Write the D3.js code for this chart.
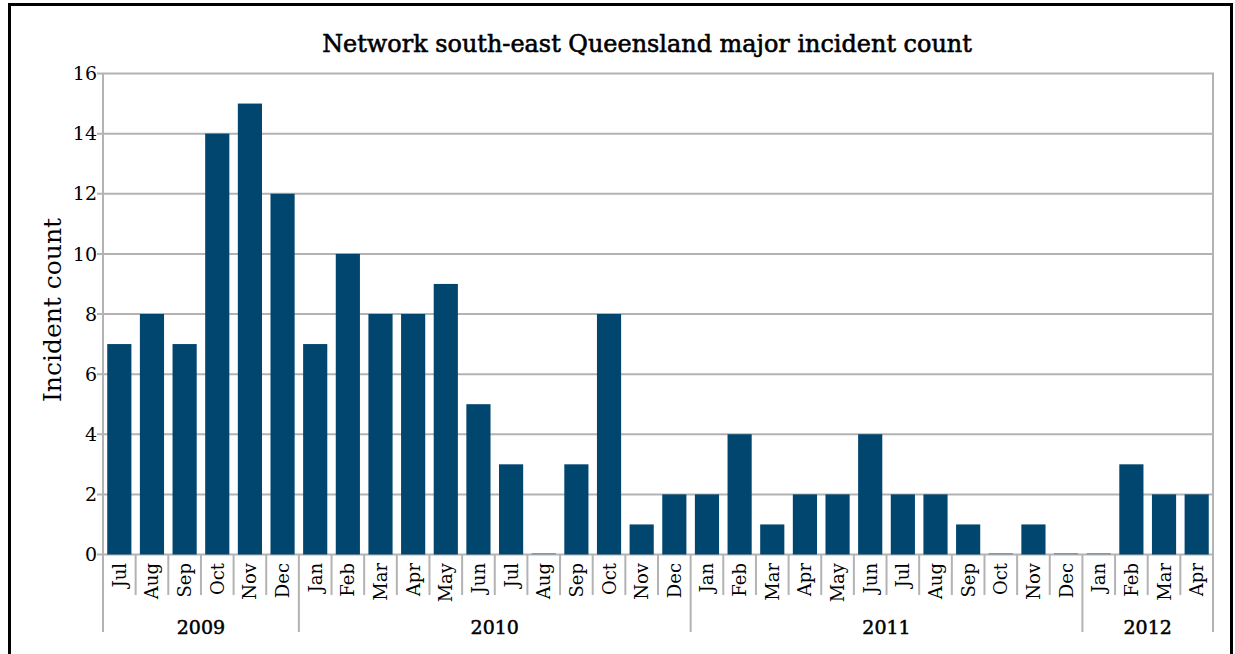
<!DOCTYPE html>
<html><head><meta charset="utf-8">
<script src="https://cdn.jsdelivr.net/npm/d3@7"></script>
<style>html,body{margin:0;padding:0;background:#fff;}svg{display:block;}</style>
</head><body>
<svg id="c" width="1235" height="654"></svg>
<script>
const months = ["Jul","Aug","Sep","Oct","Nov","Dec",
  "Jan","Feb","Mar","Apr","May","Jun","Jul","Aug","Sep","Oct","Nov","Dec",
  "Jan","Feb","Mar","Apr","May","Jun","Jul","Aug","Sep","Oct","Nov","Dec",
  "Jan","Feb","Mar","Apr"];
const years = ["2009","2010","2011","2012"];
const yearCounts = [6,12,12,4];
const values = [7,8,7,14,15,12,
  7,10,8,8,9,5,3,0,3,8,1,2,
  2,4,1,2,2,4,2,2,1,0,1,0,
  0,3,2,2];
const yTicks = [0,2,4,6,8,10,12,14,16];
const title = "Network south-east Queensland major incident count";
const yTitle = "Incident count";

const svg = d3.select("#c");
const font = "'DejaVu Serif', serif";
const L = 103, R = 1213, T = 73.5, B = 554.5;
const grid = "#b3b3b3";

svg.append("rect").attr("x",9.5).attr("y",4.5).attr("width",1222).attr("height",660)
  .attr("fill","none").attr("stroke","#000").attr("stroke-width",3);

const idx = months.map((m,i)=>i);
const x = d3.scaleBand().domain(idx).range([L,R]).paddingInner(0.26).paddingOuter(0.13);
const step = (R-L)/months.length;
const y = d3.scaleLinear().domain([0,16]).range([B,T]);

// grid
svg.append("g").selectAll("line").data(yTicks).join("line")
  .attr("x1",L-6).attr("x2",R+1).attr("y1",d=>y(d)).attr("y2",d=>y(d))
  .attr("stroke",grid).attr("stroke-width",2);
svg.append("line").attr("x1",L).attr("x2",L).attr("y1",T).attr("y2",B).attr("stroke",grid).attr("stroke-width",2);
svg.append("line").attr("x1",R).attr("x2",R).attr("y1",T).attr("y2",B).attr("stroke",grid).attr("stroke-width",2);

// bars
svg.append("g").selectAll("rect").data(values).join("rect")
  .attr("x",(d,i)=>x(i)).attr("width",x.bandwidth())
  .attr("y",d=>d===0? y(0)-1.5 : y(d)).attr("height",d=>d===0?1.5:y(0)-y(d))
  .attr("fill",(d)=>d===0?"#7f98ab":"#00466f");

// y tick labels
svg.append("g").selectAll("text").data(yTicks).join("text")
  .attr("x",L-6).attr("y",d=>y(d)).attr("dy","0.35em").attr("text-anchor","end")
  .attr("font-family",font).attr("font-size",19).text(d=>d);

// month tick lines
const bounds = d3.range(months.length+1);
const yearBounds = [0]; yearCounts.reduce((a,c)=>{yearBounds.push(a+c);return a+c;},0);
svg.append("g").selectAll("line").data(bounds).join("line")
  .attr("x1",i=>L+i*step).attr("x2",i=>L+i*step)
  .attr("y1",B).attr("y2",i=>yearBounds.includes(i)?632:595)
  .attr("stroke",grid).attr("stroke-width",2);

// month labels
svg.append("g").selectAll("text").data(months).join("text")
  .attr("transform",(d,i)=>`translate(${x(i)+x.bandwidth()/2},${563}) rotate(-90)`)
  .attr("text-anchor","end").attr("dy","0.36em")
  .attr("font-family",font).attr("font-size",18).text(d=>d);

// year labels
svg.append("g").selectAll("text").data(years).join("text")
  .attr("x",(d,i)=>L+(yearBounds[i]+yearBounds[i+1])/2*step).attr("y",634)
  .attr("text-anchor","middle").attr("font-family",font).attr("font-size",19)
  .attr("stroke","#000").attr("stroke-width",0.5)
  .text(d=>d);

// title
const t = svg.append("text").attr("x",647).attr("y",52).attr("text-anchor","middle")
  .attr("font-family",font).attr("font-size",22)
  .attr("stroke","#000").attr("stroke-width",0.6).text(title);
const tl = t.node().getComputedTextLength();
t.attr("font-size", 22*650/tl);

// y title
svg.append("text").attr("transform","translate(61,310) rotate(-90)").attr("text-anchor","middle")
  .attr("font-family",font).attr("font-size",25).text(yTitle);
</script>
</body></html>
